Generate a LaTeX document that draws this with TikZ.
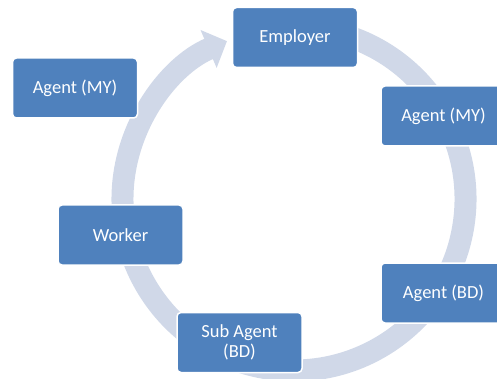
\documentclass[tikz,border=0pt]{standalone}
\usepackage{fontspec}
\setmainfont{Carlito}
\usetikzlibrary{arrows.meta}

\definecolor{boxblue}{HTML}{4F81BD}
\definecolor{ringgrey}{HTML}{D0D8E8}

\begin{document}
\begin{tikzpicture}[
    x=1pt, y=1pt,
    font=\fontsize{18.5}{20}\selectfont,
    party/.style = {
        rectangle, draw=white, fill=boxblue, text=white,
        rounded corners=4pt, minimum width=125pt, minimum height=60pt,
        align=center, line width=1.5pt
    },
    cycle/.style = {line width=22pt, draw=ringgrey,
        -{Triangle[length=20pt, width=40pt]}},
]
\clip (0,0) rectangle (497,-379);

% the ring arrow, running clockwise round the hub
\coordinate (hub) at (294,-199);
\draw[cycle] (hub) ++(80:171.5) arc[start angle=80, end angle=-247, radius=171.5];

% parties along the ring
\node[party] (employer) at (295,-37.5)  {Employer};
\node[party] (agentmyr) at (443.5,-116) {Agent (MY)};
\node[party] (agentbd)  at (443.5,-293) {Agent (BD)};
\node[party] (subagent) at (239.5,-342.5) {Sub Agent\\(BD)};
\node[party] (worker)   at (120.5,-235) {Worker};
\node[party] (agentmyl) at (75,-88)     {Agent (MY)};

\end{tikzpicture}
\end{document}
